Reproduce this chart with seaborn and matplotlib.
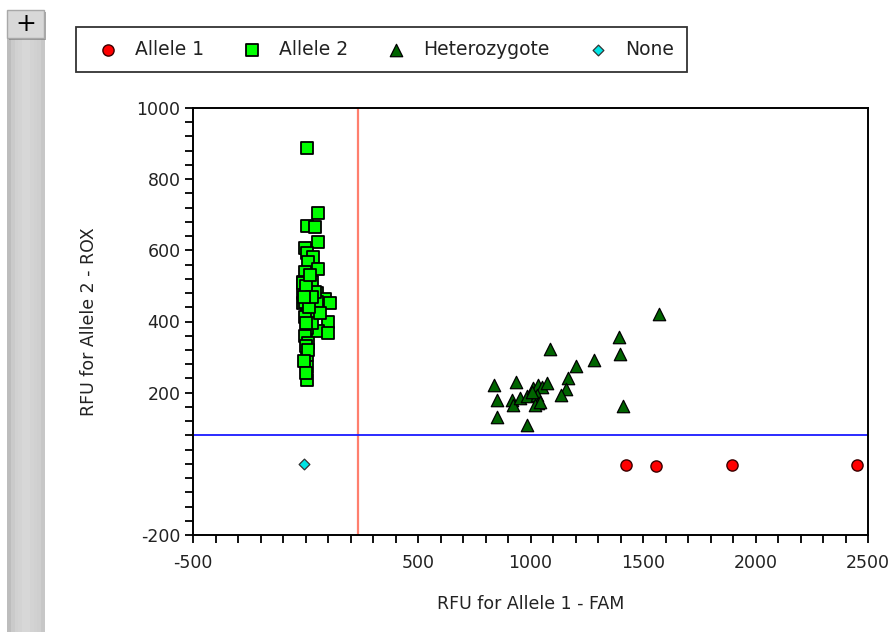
import numpy as np
import pandas as pd
import matplotlib
matplotlib.use("Agg")
import matplotlib.pyplot as plt
from matplotlib.ticker import MultipleLocator, FixedLocator, FixedFormatter
from matplotlib.patches import Rectangle
import seaborn as sns

# ---------------- data ----------------
allele1_x = [1424, 1558, 1896, 2451]
allele1_y = [-3, -6, -3, -3]

allele2_x = [5, 57, 5, 42, 57, -2, 5, 35, 12, 57, -2, 27, -10, -10, 49, 87,
             5, 49, 109, 102, 57, 98, 5, -2, 12, 5, 5, 5, 35, 27, -10, -2,
             42, -10, 64, -2, 0, 10, -5, 0, 2, 20, 15, 30, 0, -5]
allele2_y = [887, 706, 668, 666, 624, 606, 592, 582, 568, 547, 540, 512, 512, 479, 481, 462,
             432, 456, 451, 400, 372, 367, 381, 358, 339, 306, 273, 236, 423, 395, 451, 414,
             484, 507, 423, 456, 330, 320, 290, 255, 500, 530, 440, 470, 395, 470]

het_x = [1571, 1395, 1398, 1409, 1087, 1282, 1202, 1168, 1158, 1134, 838, 852, 852, 983,
         936, 916, 921, 953, 986, 1012, 1035, 1050, 1072, 1027, 1035, 1020, 1042, 1005]
het_y = [421, 357, 309, 163, 322, 292, 275, 240, 209, 193, 221, 179, 132, 109,
         231, 179, 165, 184, 190, 212, 221, 217, 226, 193, 170, 165, 175, 203]

none_x = [-7]
none_y = [0]

x_label_values = [-500, 500, 1000, 1500, 2000, 2500]
y_label_values = [-200, 200, 400, 600, 800, 1000]
x_threshold = 235
y_threshold = 80

# ---------------- figure ----------------
W, H = 892, 632
fig = plt.figure(figsize=(W / 100, H / 100), dpi=100)
fig.patch.set_facecolor("white")
plt.rcParams["font.family"] = ["DejaVu Sans"]

ax = fig.add_axes([193 / W, 1 - 535 / H, (868 - 193) / W, (535 - 108) / H])
ax.set_facecolor("white")

ax.axvline(x_threshold, color="#FF7F6E", lw=1.6, zorder=1)
ax.axhline(y_threshold, color="#1A1AFF", lw=1.3, zorder=1)

d1 = pd.DataFrame({"x": allele1_x, "y": allele1_y})
d2 = pd.DataFrame({"x": allele2_x, "y": allele2_y})
d3 = pd.DataFrame({"x": het_x, "y": het_y})
d4 = pd.DataFrame({"x": none_x, "y": none_y})

sns.scatterplot(data=d2, x="x", y="y", ax=ax, marker="s", s=75, color="#00FF00",
                edgecolor="black", linewidth=1.3, label="Allele 2", zorder=3)
sns.scatterplot(data=d3, x="x", y="y", ax=ax, marker="^", s=80, color="#006400",
                edgecolor="black", linewidth=0.9, label="Heterozygote", zorder=3)
sns.scatterplot(data=d1, x="x", y="y", ax=ax, marker="o", s=65, color="#FF0000",
                edgecolor="#3A0000", linewidth=1.0, label="Allele 1", zorder=3)
sns.scatterplot(data=d4, x="x", y="y", ax=ax, marker="D", s=30, color="#00E5E5",
                edgecolor="#333333", linewidth=0.9, label="None", zorder=3)

ax.set_xlim(-500, 2500)
ax.set_ylim(-200, 1000)

ax.xaxis.set_major_locator(FixedLocator(x_label_values))
ax.xaxis.set_major_formatter(FixedFormatter([str(v) for v in x_label_values]))
ax.xaxis.set_minor_locator(MultipleLocator(100))
ax.yaxis.set_major_locator(FixedLocator(y_label_values))
ax.yaxis.set_major_formatter(FixedFormatter([str(v) for v in y_label_values]))
ax.yaxis.set_minor_locator(MultipleLocator(40))

ax.tick_params(axis="both", which="both", direction="out", length=6, width=1.3,
               color="black", labelsize=12.5, labelcolor="#222222")
ax.tick_params(axis="x", which="major", pad=8)
ax.tick_params(axis="y", which="major", pad=3)
for sp in ax.spines.values():
    sp.set_color("black")
    sp.set_linewidth(1.4)

ax.set_xlabel("RFU for Allele 1 - FAM", fontsize=12.5, color="#222222")
ax.set_ylabel("RFU for Allele 2 - ROX", fontsize=12.5, color="#222222")
ax.xaxis.set_label_coords(0.5, -0.14)
ax.yaxis.set_label_coords(-0.14, 0.5)

# legend (order as in reference)
handles, labels = ax.get_legend_handles_labels()
order = ["Allele 1", "Allele 2", "Heterozygote", "None"]
hmap = dict(zip(labels, handles))
if ax.legend_:
    ax.legend_.remove()
leg = fig.legend([hmap[k] for k in order], order, ncol=4, loc="upper left",
                 bbox_to_anchor=(76 / W, 1 - 27 / H), borderaxespad=0,
                 frameon=True, fancybox=False, edgecolor="black",
                 fontsize=13.5, handlelength=2.0, handletextpad=0.45,
                 columnspacing=1.55, borderpad=0.7)
leg.get_frame().set_linewidth(1.3)
for t in leg.get_texts():
    t.set_color("#222222")

# ---------------- left side panel ----------------
side = fig.add_axes([7 / W, 0, 38 / W, 1 - 36 / H])
grad = np.array([[0.74, 0.79, 0.82, 0.83, 0.84, 0.84, 0.83, 0.82, 0.81, 0.78]])
side.imshow(grad, aspect="auto", cmap="gray", vmin=0, vmax=1, extent=(0, 1, 0, 1))
side.axis("off")

fig.patches.append(Rectangle((9 / W, 1 - 40 / H), 37 / W, 28 / H, transform=fig.transFigure,
                             facecolor="#6E6E6E", edgecolor="none", alpha=0.6))
fig.patches.append(Rectangle((7 / W, 1 - 38 / H), 37 / W, 28 / H, transform=fig.transFigure,
                             facecolor="#D8D8D8", edgecolor="#A8A8A8", lw=1.0))
fig.text(25.5 / W, 1 - 24 / H, "+", fontsize=18, ha="center", va="center",
         color="black")

fig.savefig("out.png", dpi=100, facecolor="white")
